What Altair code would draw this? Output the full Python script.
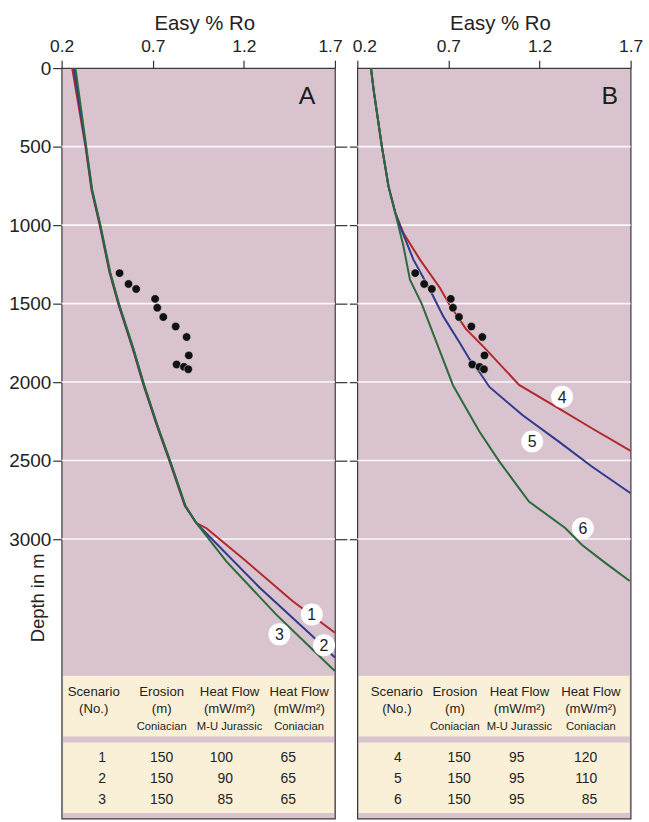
import altair as alt
import pandas as pd

# ---------------- data ----------------
ro_ticks = [0.2, 0.7, 1.2, 1.7]
depth_ticks = [0, 500, 1000, 1500, 2000, 2500, 3000]
grid_depths = [500, 1000, 1500, 2000, 2500, 3000]

# Panel A: scenarios 1-3
c1_ro = [0.258, 0.331, 0.364, 0.409, 0.463, 0.513, 0.591, 0.649, 0.722, 0.795, 0.876, 0.940, 0.995, 1.213, 1.467, 1.700]
c1_depth = [0, 500, 776, 1000, 1302, 1510, 1790, 2018, 2275, 2513, 2788, 2899, 2931, 3142, 3395, 3597]
c2_ro = [0.267, 0.333, 0.366, 0.411, 0.465, 0.515, 0.593, 0.651, 0.724, 0.797, 0.878, 0.940, 0.976, 1.286, 1.576, 1.700]
c2_depth = [0, 500, 776, 1000, 1302, 1510, 1790, 2018, 2275, 2513, 2788, 2899, 2942, 3308, 3617, 3755]
c3_ro = [0.276, 0.335, 0.368, 0.413, 0.467, 0.517, 0.595, 0.653, 0.726, 0.799, 0.880, 0.940, 1.104, 1.377, 1.668, 1.700]
c3_depth = [0, 500, 776, 1000, 1302, 1510, 1790, 2018, 2275, 2513, 2788, 2899, 3142, 3480, 3805, 3840]

# Panel B: scenarios 4-6
c4_ro = [0.275, 0.290, 0.335, 0.371, 0.408, 0.453, 0.544, 0.653, 0.707, 0.797, 0.905, 1.088, 1.305, 1.487, 1.700]
c4_depth = [0, 142, 500, 752, 920, 1051, 1220, 1399, 1509, 1663, 1790, 2018, 2167, 2294, 2438]
c5_ro = [0.275, 0.290, 0.335, 0.371, 0.408, 0.435, 0.508, 0.598, 0.671, 0.762, 0.816, 0.870, 0.925, 1.106, 1.306, 1.487, 1.700]
c5_depth = [0, 142, 500, 752, 920, 1008, 1220, 1410, 1580, 1749, 1854, 1936, 2031, 2210, 2379, 2538, 2708]
c6_ro = [0.275, 0.290, 0.335, 0.371, 0.408, 0.453, 0.489, 0.553, 0.649, 0.725, 0.870, 0.979, 1.142, 1.341, 1.432, 1.559, 1.695]
c6_depth = [0, 142, 500, 752, 920, 1133, 1347, 1500, 1790, 2020, 2315, 2505, 2761, 2930, 3036, 3150, 3267]

# measured vitrinite reflectance (same in both panels)
dot_ro = [0.518, 0.567, 0.609, 0.713, 0.725, 0.758, 0.826, 0.886, 0.898, 0.831, 0.871, 0.895]
dot_depth = [1306, 1375, 1407, 1470, 1527, 1586, 1646, 1713, 1830, 1888, 1903, 1918]

# curve number labels
lab_a_text = ["1", "2", "3"]
lab_a_ro = [1.573, 1.640, 1.395]
lab_a_depth = [3480, 3677, 3607]
lab_b_text = ["4", "5", "6"]
lab_b_ro = [1.324, 1.160, 1.438]
lab_b_depth = [2093, 2378, 2931]

# table contents
head_1 = ["Scenario", "Erosion", "Heat Flow", "Heat Flow"]
head_2 = ["(No.)", "(m)", "(mW/m²)", "(mW/m²)"]
head_3 = ["", "Coniacian", "M-U Jurassic", "Coniacian"]
scen_a = ["1", "2", "3"]
eros_a = ["150", "150", "150"]
hfj_a = ["100", "90", "85"]
hfc_a = ["65", "65", "65"]
scen_b = ["4", "5", "6"]
eros_b = ["150", "150", "150"]
hfj_b = ["95", "95", "95"]
hfc_b = ["120", "110", "85"]

# ---------------- styling / layout ----------------
PINK = "#d8c3ce"
CREAM = "#faf0d8"
RED = "#b3282c"
BLUE = "#2e3a8f"
GREEN = "#2b6a3b"
FONT = "Liberation Sans"
W = 275
H = 755
DEPTH_MAX = 4780

xs = alt.Scale(domain=[0.2, 1.7], nice=False, zero=False)
ys = alt.Scale(domain=[0, DEPTH_MAX], nice=False, zero=False, reverse=True)
x_plain = alt.X("ro:Q", scale=xs, axis=None)
y_plain = alt.Y("depth:Q", scale=ys, axis=None)
ONE = pd.DataFrame({"a": [0]})


def curves_df(names, ros, depths):
    rows = []
    for n, r, d in zip(names, ros, depths):
        for i, (a, b) in enumerate(zip(r, d)):
            rows.append({"scenario": n, "ro": a, "depth": b, "i": i})
    return pd.DataFrame(rows)


def txt(s, px, py, fs, align="center"):
    return alt.Chart(ONE).mark_text(font=FONT, color="#222222", align=align,
                                    baseline="middle", fontSize=fs).encode(
        x=alt.value(px), y=alt.value(py), text=alt.value(s))


def panel(letter, letter_x, names, ros, depths, colors, labs, table_cols, rows, left_axis):
    if left_axis:
        loff = {"condition": {"test": "datum.value == 1.7", "value": -5}, "value": 0}
    else:
        loff = {"condition": {"test": "datum.value == 0.2", "value": 7}, "value": 0}
    x_axis = alt.X(
        "ro:Q", scale=xs,
        axis=alt.Axis(orient="top", values=ro_ticks, format=".1f", title="Easy % Ro",
                      labelOffset=loff,
                      labelFlush=False, labelOverlap=False, tickSize=8, labelPadding=5,
                      labelFontSize=17.5, titleFontSize=20.5, titleFontWeight="normal",
                      titleY=-38.5, titleX=143.5, titleBaseline="alphabetic",
                      domain=False, grid=False))

    grid = alt.Chart(pd.DataFrame({"depth": grid_depths})).mark_rule(
        color="white", strokeWidth=1.6, opacity=0.9)
    if left_axis:
        grid = grid.encode(y=alt.Y("depth:Q", scale=ys,
                                   axis=alt.Axis(orient="right", values=grid_depths, labels=False,
                                                 tickSize=12, domain=False, title=None, grid=False)))
    else:
        grid = grid.encode(y=alt.Y("depth:Q", scale=ys,
                                   axis=alt.Axis(orient="left", values=grid_depths, labels=False,
                                                 tickSize=8, domain=False, title=None, grid=False)))

    box1 = alt.Chart(ONE).mark_rect(color=CREAM).encode(
        x=alt.value(1.5), x2=alt.value(W - 1), y=alt.value(611.5), y2=alt.value(672.5))
    box2 = alt.Chart(ONE).mark_rect(color=CREAM).encode(
        x=alt.value(1.5), x2=alt.value(W - 1), y=alt.value(678.5), y2=alt.value(749.5))

    df = curves_df(names, ros, depths)
    if left_axis:
        y_line = alt.Y("depth:Q", scale=ys,
                       axis=alt.Axis(orient="left", values=depth_ticks, format="d", tickSize=9,
                                     labelPadding=2, labelFontSize=19, title="Depth in m",
                                     titleAngle=270, titleX=-24, titleY=532.5, titleAlign="center",
                                     titleBaseline="middle", titleFontSize=18.5,
                                     titleFontWeight="normal", domain=False, grid=False))
    else:
        y_line = y_plain
    lines = alt.Chart(df).mark_line(strokeWidth=2).encode(
        x=x_axis, y=y_line,
        color=alt.Color("scenario:N", scale=alt.Scale(domain=names, range=colors), legend=None),
        order="i:Q")

    dots = alt.Chart(pd.DataFrame({"ro": dot_ro, "depth": dot_depth})).mark_circle(
        size=72, color="#111111", opacity=1, stroke="#eee6ea", strokeWidth=0.5).encode(
        x=x_plain, y=y_plain)

    ldf = pd.DataFrame({"t": labs[0], "ro": labs[1], "depth": labs[2]})
    lcirc = alt.Chart(ldf).mark_circle(size=490, color="white", opacity=1).encode(x=x_plain, y=y_plain)
    ltext = alt.Chart(ldf).mark_text(fontSize=16, font=FONT, color="#222222",
                                     align="center", baseline="middle", dy=1).encode(
        x=x_plain, y=y_plain, text="t:N")

    letter_t = alt.Chart(ONE).mark_text(fontSize=25, font=FONT, color="#1a1a1a",
                                        align="center", baseline="middle").encode(
        x=alt.value(letter_x), y=alt.value(28), text=alt.value(letter))

    # table text
    hx, dcx, dright = table_cols
    tl = []
    for j in range(4):
        tl.append(txt(head_1[j], hx[j], 627.5, 13.3))
        tl.append(txt(head_2[j], hx[j], 644.5, 13.3))
        if head_3[j]:
            tl.append(txt(head_3[j], hx[j], 663, 11.3))
    row_y = [694, 715, 736]
    for k in range(3):
        tl.append(txt(rows[0][k], dcx[0], row_y[k], 14))
        tl.append(txt(rows[1][k], dcx[1], row_y[k], 14))
        tl.append(txt(rows[2][k], dright[0], row_y[k], 14, "right"))
        tl.append(txt(rows[3][k], dright[1], row_y[k], 14, "right"))

    return alt.layer(grid, box1, box2, lines, dots, lcirc, ltext, letter_t, *tl).resolve_axis(
        x="independent", y="independent").properties(width=W, height=H)


panel_a = panel(
    "A", 247,
    ["1", "2", "3"], [c1_ro, c2_ro, c3_ro], [c1_depth, c2_depth, c3_depth],
    [RED, BLUE, GREEN],
    (lab_a_text, lab_a_ro, lab_a_depth),
    ([32.3, 100.7, 169, 239], [40.7, 100.7], [172.3, 235.7]),
    (scen_a, eros_a, hfj_a, hfc_a),
    True)

panel_b = panel(
    "B", 254,
    ["4", "5", "6"], [c4_ro, c5_ro, c6_ro], [c4_depth, c5_depth, c6_depth],
    [RED, BLUE, GREEN],
    (lab_b_text, lab_b_ro, lab_b_depth),
    ([39.8, 98.2, 163.2, 235], [40.8, 102.5], [168.2, 241.5]),
    (scen_b, eros_b, hfj_b, hfc_b),
    False)

chart = alt.hconcat(panel_a, panel_b, spacing=22.5, bounds="flush").properties(
    padding={"left": 8, "top": 10, "right": 5, "bottom": 0},
    background="white",
).configure_view(
    fill=PINK, stroke="#3a3a3a", strokeWidth=1.2
).configure_axis(
    labelFont=FONT, titleFont=FONT, labelColor="#222222", titleColor="#222222",
    tickColor="#333333", tickWidth=1.2
)

chart.save("out.html", embed_options={"renderer": "svg", "actions": False})
